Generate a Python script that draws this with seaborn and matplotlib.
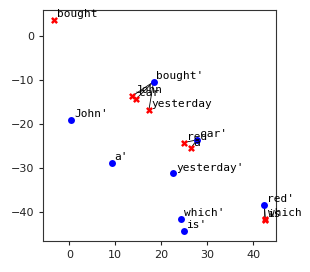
import pandas as pd
import matplotlib
matplotlib.use("Agg")
import matplotlib.pyplot as plt
import seaborn as sns

# source words (red x) and target words (blue dots)
src_words = ["bought", "John", "car", "yesterday", "red", "a", "is", "which"]
src_x = [-3.3, 13.7, 14.6, 17.3, 24.9, 26.4, 42.5, 42.6]
src_y = [3.6, -13.6, -14.2, -16.8, -24.2, -25.5, -41.7, -41.6]

tgt_words = ["bought'", "John'", "car'", "a'", "yesterday'", "red'", "which'", "is'"]
tgt_x = [18.3, 0.4, 27.7, 9.2, 22.6, 42.4, 24.3, 25.0]
tgt_y = [-10.4, -19.1, -23.6, -28.8, -31.2, -38.3, -41.5, -44.2]

# alignment links: source word -> target word
links = [("John", "bought'"), ("car", "bought'"), ("yesterday", "bought'"),
         ("red", "car'"), ("a", "car'"), ("is", "red'"), ("which", "red'")]

src = pd.DataFrame({"word": src_words, "x": src_x, "y": src_y})
tgt = pd.DataFrame({"word": tgt_words, "x": tgt_x, "y": tgt_y})

sns.set_style("ticks")
fig, ax = plt.subplots(figsize=(3.1, 2.72), dpi=100)

for s, t in links:
    a = src.set_index("word").loc[s]
    b = tgt.set_index("word").loc[t]
    ax.plot([a.x, b.x], [a.y, b.y], color="black", lw=0.6, zorder=1)

sns.scatterplot(data=src, x="x", y="y", marker="X", color="red", s=25,
                linewidth=0, ax=ax, zorder=2)
sns.scatterplot(data=tgt, x="x", y="y", marker="o", color="blue", s=25,
                linewidth=0, ax=ax, zorder=2)

for df in (src, tgt):
    for _, r in df.iterrows():
        ax.annotate(r.word, (r.x, r.y), xytext=(2, 2), textcoords="offset points",
                    family="DejaVu Sans Mono", fontsize=8, color="black")

ax.set_xlim(-5.7, 44.9)
ax.set_ylim(-46.5, 5.9)
ax.set_xticks([0, 10, 20, 30, 40])
ax.set_yticks([0, -10, -20, -30, -40])
ax.set_xlabel("")
ax.set_ylabel("")
ax.tick_params(labelsize=8, length=3, colors="#222222")
for sp in ax.spines.values():
    sp.set_color("#333333")

fig.subplots_adjust(left=0.139, right=0.89, top=0.963, bottom=0.115)
fig.savefig("out.png", dpi=100)
